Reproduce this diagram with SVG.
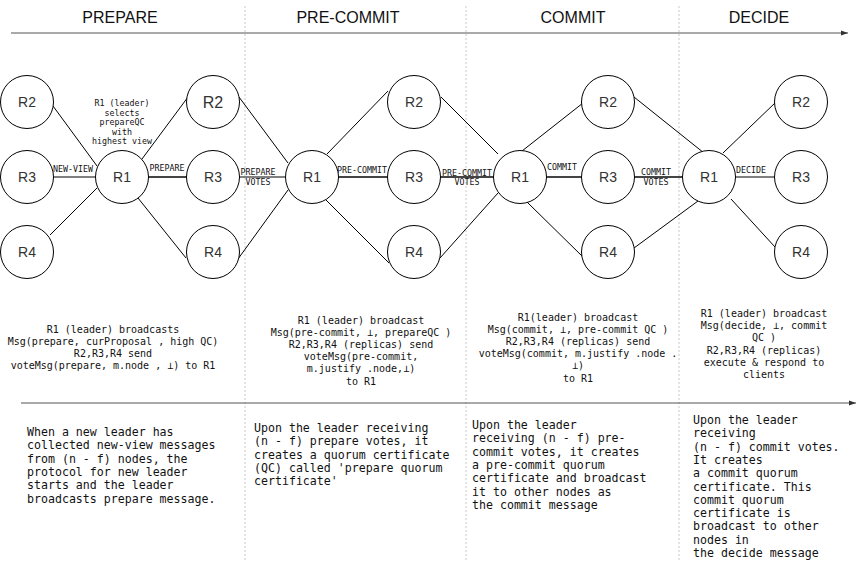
<svg xmlns="http://www.w3.org/2000/svg" width="857" height="561" viewBox="0 0 857 561">
<style>
.bg{fill:#fff}
.node circle{fill:#fff;stroke:#000;stroke-width:1}
.node text{font-family:"Liberation Sans",Arial,sans-serif;font-size:14px;fill:#333;text-anchor:middle}
.edge{stroke:#000;stroke-width:1;fill:none}
.edge.thick{stroke:#444;stroke-width:1.8}
.lbl{font-family:"DejaVu Sans Mono",monospace;font-size:8.3px;fill:#111;text-anchor:middle}
.hdr{font-family:"Liberation Sans",Arial,sans-serif;font-size:16px;fill:#111;text-anchor:middle}
.mid{font-family:"DejaVu Sans Mono",monospace;font-size:10px;fill:#111;text-anchor:middle}
.bot{font-family:"DejaVu Sans Mono",monospace;font-size:11.6px;fill:#111}
.div{stroke:#c8c8c8;stroke-width:1;stroke-dasharray:2,2}
.axis{stroke:#555;stroke-width:1;fill:none}
</style>
<defs>
<marker id="arr" markerWidth="8" markerHeight="8" refX="7" refY="4" orient="auto" markerUnits="userSpaceOnUse">
<path d="M0,1.5 L7,4 L0,6.5 Z" fill="#333"/>
</marker>
</defs>
<rect class="bg" x="0" y="0" width="857" height="561"/>

<g id="dividers">
<line class="div" x1="245" y1="6" x2="245" y2="561"/>
<line class="div" x1="466" y1="6" x2="466" y2="561"/>
<line class="div" x1="679" y1="6" x2="679" y2="561"/>
</g>

<g id="headers">
<text class="hdr" x="120" y="23">PREPARE</text>
<text class="hdr" x="348" y="23">PRE-COMMIT</text>
<text class="hdr" x="573" y="23">COMMIT</text>
<text class="hdr" x="759" y="23">DECIDE</text>
</g>

<g id="timelines">
<line class="axis" x1="11" y1="33" x2="848" y2="33" marker-end="url(#arr)"/>
<line class="axis" x1="21" y1="403" x2="856" y2="403" marker-end="url(#arr)"/>
</g>

<g id="connectors">
<line class="edge" x1="53" y1="106" x2="97" y2="166"/>
<line class="edge" x1="54" y1="177" x2="95" y2="177"/>
<line class="edge" x1="50" y1="235" x2="97" y2="188"/>
<line class="edge" x1="142" y1="159" x2="188" y2="97"/>
<line class="edge thick" x1="148" y1="177" x2="187" y2="177"/>
<line class="edge" x1="138" y1="198" x2="186" y2="258"/>
<line class="edge" x1="239" y1="97" x2="288" y2="163"/>
<line class="edge" x1="239" y1="177" x2="286" y2="177"/>
<line class="edge" x1="238" y1="259" x2="288" y2="190"/>
<line class="edge" x1="327" y1="154" x2="388" y2="91"/>
<line class="edge thick" x1="338" y1="177" x2="388" y2="177"/>
<line class="edge" x1="326" y1="200" x2="389" y2="263"/>
<line class="edge" x1="441" y1="97" x2="498" y2="154"/>
<line class="edge thick" x1="440" y1="177" x2="494" y2="177"/>
<line class="edge" x1="440" y1="258" x2="498" y2="193"/>
<line class="edge" x1="522" y1="151" x2="583" y2="103"/>
<line class="edge thick" x1="546" y1="177" x2="582" y2="177"/>
<line class="edge" x1="527" y1="202" x2="583" y2="257"/>
<line class="edge" x1="634" y1="97" x2="704" y2="153"/>
<line class="edge thick" x1="634" y1="177" x2="683" y2="177"/>
<line class="edge" x1="634" y1="248" x2="698" y2="201"/>
<line class="edge" x1="723" y1="153" x2="776" y2="102"/>
<line class="edge" x1="735" y1="177" x2="775" y2="177"/>
<line class="edge" x1="731" y1="199" x2="775" y2="247"/>
</g>

<g id="connector-labels">
<text class="lbl" x="73" y="172">NEW-VIEW</text>
<text class="lbl" x="122" y="106">R1 (leader)</text>
<text class="lbl" x="122" y="115.5">selects</text>
<text class="lbl" x="122" y="125">prepareQC</text>
<text class="lbl" x="122" y="134.5">with</text>
<text class="lbl" x="122" y="144">highest view</text>
<text class="lbl" x="167" y="171">PREPARE</text>
<text class="lbl" x="258" y="175">PREPARE</text>
<text class="lbl" x="258" y="185">VOTES</text>
<text class="lbl" x="362" y="173">PRE-COMMIT</text>
<text class="lbl" x="467" y="176">PRE-COMMIT</text>
<text class="lbl" x="467" y="185">VOTES</text>
<text class="lbl" x="562" y="170">COMMIT</text>
<text class="lbl" x="656" y="175">COMMIT</text>
<text class="lbl" x="656" y="185">VOTES</text>
<text class="lbl" x="751" y="173">DECIDE</text>
</g>

<g id="p1-R2" class="node"><circle cx="27" cy="102" r="26.5"/><text x="27" y="107">R2</text></g>
<g id="p1-R3" class="node"><circle cx="27" cy="177" r="26.5"/><text x="27" y="182">R3</text></g>
<g id="p1-R4" class="node"><circle cx="27" cy="252" r="26.5"/><text x="27" y="257">R4</text></g>
<g id="p1-R1" class="node"><circle cx="122" cy="177" r="26.5"/><text x="122" y="182">R1</text></g>
<g id="p2-R2" class="node"><circle cx="213" cy="102" r="26.5"/><text x="213" y="108" style="font-size:16px">R2</text></g>
<g id="p2-R3" class="node"><circle cx="213" cy="177" r="26.5"/><text x="213" y="182">R3</text></g>
<g id="p2-R4" class="node"><circle cx="213" cy="252" r="26.5"/><text x="213" y="257">R4</text></g>
<g id="p2-R1" class="node"><circle cx="312" cy="177" r="26.5"/><text x="312" y="182">R1</text></g>
<g id="p3-R2" class="node"><circle cx="414" cy="102" r="26.5"/><text x="414" y="107">R2</text></g>
<g id="p3-R3" class="node"><circle cx="414" cy="177" r="26.5"/><text x="414" y="182">R3</text></g>
<g id="p3-R4" class="node"><circle cx="414" cy="252" r="26.5"/><text x="414" y="257">R4</text></g>
<g id="p3-R1" class="node"><circle cx="520" cy="177" r="26.5"/><text x="520" y="182">R1</text></g>
<g id="p4-R2" class="node"><circle cx="608" cy="102" r="26.5"/><text x="608" y="107">R2</text></g>
<g id="p4-R3" class="node"><circle cx="608" cy="177" r="26.5"/><text x="608" y="182">R3</text></g>
<g id="p4-R4" class="node"><circle cx="608" cy="252" r="26.5"/><text x="608" y="257">R4</text></g>
<g id="p4-R1" class="node"><circle cx="709" cy="177" r="26.5"/><text x="709" y="182">R1</text></g>
<g id="p5-R2" class="node"><circle cx="801" cy="102" r="26.5"/><text x="801" y="107">R2</text></g>
<g id="p5-R3" class="node"><circle cx="801" cy="177" r="26.5"/><text x="801" y="182">R3</text></g>
<g id="p5-R4" class="node"><circle cx="801" cy="252" r="26.5"/><text x="801" y="257">R4</text></g>

<g id="msg-prepare">
<text class="mid" x="113" y="332.5">R1 (leader) broadcasts</text>
<text class="mid" x="113" y="344.5">Msg(prepare, curProposal , high QC)</text>
<text class="mid" x="113" y="356.5">R2,R3,R4 send</text>
<text class="mid" x="113" y="368.5">voteMsg(prepare, m.node , ⊥) to R1</text>
</g>
<g id="msg-precommit">
<text class="mid" x="361" y="323.5">R1 (leader) broadcast</text>
<text class="mid" x="361" y="335.7">Msg(pre-commit, ⊥, prepareQC )</text>
<text class="mid" x="361" y="347.9">R2,R3,R4 (replicas) send</text>
<text class="mid" x="361" y="360.1">voteMsg(pre-commit,</text>
<text class="mid" x="361" y="372.3">m.justify .node,⊥)</text>
<text class="mid" x="361" y="384.5">to R1</text>
</g>
<g id="msg-commit">
<text class="mid" x="578" y="320.5">R1(leader) broadcast</text>
<text class="mid" x="578" y="332.7">Msg(commit, ⊥, pre-commit QC )</text>
<text class="mid" x="578" y="344.9">R2,R3,R4 (replicas) send</text>
<text class="mid" x="578" y="357.1">voteMsg(commit, m.justify .node .</text>
<text class="mid" x="578" y="369.3">⊥)</text>
<text class="mid" x="578" y="381.5">to R1</text>
</g>
<g id="msg-decide">
<text class="mid" x="764" y="317">R1 (leader) broadcast</text>
<text class="mid" x="764" y="329.2">Msg(decide, ⊥, commit</text>
<text class="mid" x="764" y="341.4">QC )</text>
<text class="mid" x="764" y="353.6">R2,R3,R4 (replicas)</text>
<text class="mid" x="764" y="365.8">execute &amp; respond to</text>
<text class="mid" x="764" y="378">clients</text>
</g>

<g id="desc-prepare">
<text class="bot" x="27" y="436">When a new leader has</text>
<text class="bot" x="27" y="449.3">collected new-view messages</text>
<text class="bot" x="27" y="462.6">from (n - f) nodes, the</text>
<text class="bot" x="27" y="475.9">protocol for new leader</text>
<text class="bot" x="27" y="489.2">starts and the leader</text>
<text class="bot" x="27" y="502.5">broadcasts prepare message.</text>
</g>
<g id="desc-precommit">
<text class="bot" x="254" y="432">Upon the leader receiving</text>
<text class="bot" x="254" y="445.3">(n - f) prepare votes, it</text>
<text class="bot" x="254" y="458.6">creates a quorum certificate</text>
<text class="bot" x="254" y="471.9">(QC) called 'prepare quorum</text>
<text class="bot" x="254" y="485.2">certificate'</text>
</g>
<g id="desc-commit">
<text class="bot" x="472" y="429">Upon the leader</text>
<text class="bot" x="472" y="442.3">receiving (n - f) pre-</text>
<text class="bot" x="472" y="455.6">commit votes, it creates</text>
<text class="bot" x="472" y="468.9">a pre-commit quorum</text>
<text class="bot" x="472" y="482.2">certificate and broadcast</text>
<text class="bot" x="472" y="495.5">it to other nodes as</text>
<text class="bot" x="472" y="508.8">the commit message</text>
</g>
<g id="desc-decide">
<text class="bot" x="693" y="424">Upon the leader</text>
<text class="bot" x="693" y="437.3">receiving</text>
<text class="bot" x="693" y="450.6">(n - f) commit votes.</text>
<text class="bot" x="693" y="463.9">It creates</text>
<text class="bot" x="693" y="477.2">a commit quorum</text>
<text class="bot" x="693" y="490.5">certificate. This</text>
<text class="bot" x="693" y="503.8">commit quorum</text>
<text class="bot" x="693" y="517.1">certificate is</text>
<text class="bot" x="693" y="530.4">broadcast to other</text>
<text class="bot" x="693" y="543.7">nodes in</text>
<text class="bot" x="693" y="557">the decide message</text>
</g>
</svg>
